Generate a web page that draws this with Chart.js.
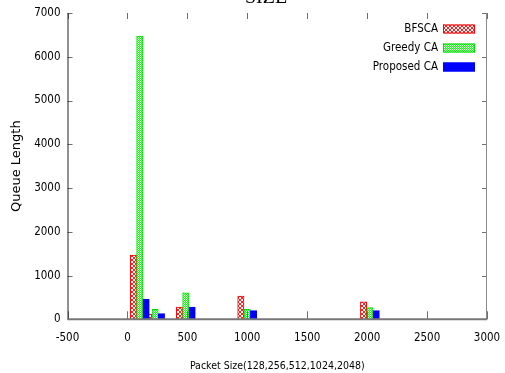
<!DOCTYPE html>
<html>
<head>
<title>Queue Length vs Packet Size</title>
<script src="https://cdn.jsdelivr.net/npm/chart.js"></script>
<style>
  body { margin: 0; background: #fff; }
</style>
</head>
<body>
<canvas id="myChart" width="505" height="373"></canvas>
<script>
// data
const packetSizes = [128, 256, 512, 1024, 2048];
const seriesNames = ['BFSCA', 'Greedy CA', 'Proposed CA'];
const bfsca    = [1470, 120, 280, 532, 402];
const greedyCA = [6470, 228, 605, 228, 265];
const proposed = [457, 128, 281, 197, 197];
const xOffsets = [-78, -25, 28]; // each series sits a bit off the packet size
const xTicks = [-500, 0, 500, 1000, 1500, 2000, 2500, 3000];
const yTicks = [0, 1000, 2000, 3000, 4000, 5000, 6000, 7000];

const narrow = '"DejaVu Sans Condensed", "Liberation Sans Narrow", sans-serif';

function makePattern(size, paint) {
    const c = document.createElement('canvas');
    c.width = c.height = size;
    const g = c.getContext('2d');
    paint(g, size);
    return g.createPattern(c, 'repeat');
}

const redHatch = makePattern(4, function (g, s) {
    g.fillStyle = '#fff';
    g.fillRect(0, 0, s, s);
    g.strokeStyle = '#ff2020';
    g.lineWidth = 1;
    g.beginPath();
    g.moveTo(0, 0); g.lineTo(s, s);
    g.moveTo(s, 0); g.lineTo(0, s);
    g.stroke();
});
const greenChecker = makePattern(2, function (g, s) {
    g.fillStyle = '#c8ffc8';
    g.fillRect(0, 0, s, s);
    g.fillStyle = '#22ee22';
    g.fillRect(0, 0, 1, 1);
    g.fillRect(1, 1, 1, 1);
});

function points(values, k) {
    return values.map((v, i) => ({ x: packetSizes[i] + xOffsets[k], y: v }));
}

// gnuplot-like frame, inward ticks, legend and the clipped title
const frame = {
    id: 'frame',
    afterDraw(chart) {
        const ctx = chart.ctx;
        const a = chart.chartArea;
        const xs = chart.scales.x, ys = chart.scales.y;
        ctx.save();
        ctx.strokeStyle = '#6f6f6f';
        ctx.lineWidth = 1;
        ctx.beginPath();
        xTicks.forEach(v => {
            const px = Math.round(xs.getPixelForValue(v)) + 0.5;
            ctx.moveTo(px, a.bottom); ctx.lineTo(px, a.bottom - 8);
            ctx.moveTo(px, a.top); ctx.lineTo(px, a.top + 6);
        });
        yTicks.forEach(v => {
            const py = Math.round(ys.getPixelForValue(v)) + 0.5;
            ctx.moveTo(a.left, py); ctx.lineTo(a.left + 5, py);
            ctx.moveTo(a.right, py); ctx.lineTo(a.right - 5, py);
        });
        ctx.stroke();
        ctx.strokeStyle = '#8a8a8a';
        ctx.beginPath();
        ctx.moveTo(a.right - 0.5, a.top); ctx.lineTo(a.right - 0.5, a.bottom);
        ctx.stroke();
        ctx.strokeStyle = '#222';
        ctx.beginPath();
        ctx.moveTo(a.left + 0.5, a.top); ctx.lineTo(a.left + 0.5, a.bottom);
        ctx.stroke();
        ctx.strokeStyle = '#777';
        ctx.lineWidth = 2;
        ctx.beginPath();
        ctx.moveTo(a.left, a.bottom); ctx.lineTo(a.right, a.bottom);
        ctx.stroke();

        // legend
        ctx.font = '11.5px ' + narrow;
        ctx.textAlign = 'right';
        ctx.textBaseline = 'middle';
        chart.data.datasets.forEach((ds, i) => {
            const cy = a.top + 16 + i * 19;
            ctx.fillStyle = '#000';
            ctx.fillText(ds.label, a.right - 49, cy);
            ctx.fillStyle = ds.backgroundColor;
            ctx.fillRect(a.right - 44, cy - 4.5, 32, 9);
            ctx.strokeStyle = ds.borderColor;
            ctx.lineWidth = 1;
            ctx.strokeRect(a.right - 43.5, cy - 4, 31, 8);
        });

        // title, mostly cut off at the top edge
        ctx.font = '20px "Liberation Serif", serif';
        ctx.textAlign = 'center';
        ctx.textBaseline = 'alphabetic';
        ctx.fillStyle = '#000';
        ctx.fillText('SIZE', 266, 3);
        ctx.restore();
    }
};

function createChart() {
    const ctx = document.getElementById('myChart');
    new Chart(ctx, {
        type: 'bar',
        data: {
            datasets: [{
                label: seriesNames[0],
                data: points(bfsca, 0),
                backgroundColor: redHatch,
                borderColor: '#ff0000',
                order: 3
            }, {
                label: seriesNames[1],
                data: points(greedyCA, 1),
                backgroundColor: greenChecker,
                borderColor: '#00dd00',
                order: 2
            }, {
                label: seriesNames[2],
                data: points(proposed, 2),
                backgroundColor: '#0000ff',
                borderColor: '#0000ff',
                order: 1
            }]
        },
        options: {
            responsive: false,
            animation: false,
            layout: { padding: { top: 13, right: 18, left: 0, bottom: 0 } },
            datasets: {
                bar: { grouped: false, barThickness: 6.3, borderWidth: 1, borderSkipped: 'start' }
            },
            plugins: { legend: { display: false }, tooltip: { enabled: false } },
            scales: {
                x: {
                    type: 'linear',
                    offset: false,
                    min: -500,
                    max: 3000,
                    afterBuildTicks: s => { s.ticks = xTicks.map(v => ({ value: v })); },
                    afterFit: s => { s.height = 53.7; s.paddingLeft = 0; s.paddingRight = 0; },
                    grid: { display: false, drawTicks: false },
                    border: { display: false },
                    ticks: { padding: 12, color: '#000', font: { family: narrow, size: 11.5 }, maxRotation: 0, autoSkip: false, callback: v => String(v) },
                    title: {
                        display: true,
                        text: 'Packet Size(128,256,512,1024,2048)',
                        color: '#000',
                        font: { family: narrow, size: 10.5 },
                        padding: { top: 0, bottom: 0 }
                    }
                },
                y: {
                    min: 0,
                    max: 7000,
                    afterBuildTicks: s => { s.ticks = yTicks.map(v => ({ value: v })); },
                    afterFit: s => { s.width = 67.5; s.paddingTop = 0; s.paddingBottom = 0; },
                    grid: { display: false, drawTicks: false },
                    border: { display: false },
                    ticks: { padding: 7, color: '#000', font: { family: narrow, size: 11.5 }, callback: v => String(v) },
                    title: {
                        display: true,
                        text: 'Queue Length',
                        color: '#000',
                        font: { family: '"DejaVu Sans", sans-serif', size: 13 },
                        padding: { top: 9, bottom: 0 }
                    }
                }
            }
        },
        plugins: [frame]
    });
}
createChart();
</script>
</body>
</html>
